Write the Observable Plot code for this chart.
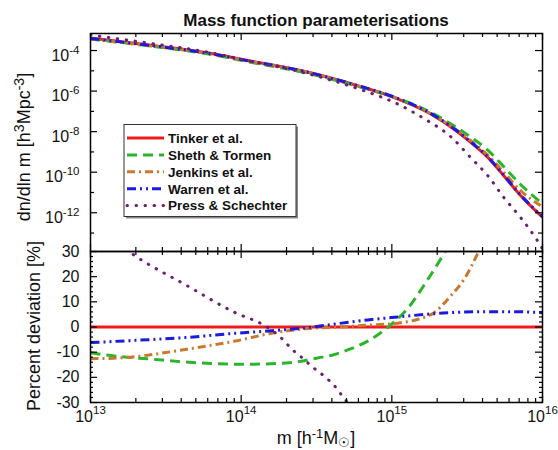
<!DOCTYPE html>
<html><head><meta charset="utf-8">
<script src="https://cdn.jsdelivr.net/npm/d3@7"></script>
<script src="https://cdn.jsdelivr.net/npm/@observablehq/plot@0.6"></script>
<style>
body{margin:0;background:#fff;}
#wrap{position:relative;width:558px;height:450px;overflow:hidden;background:#fff;font-family:"Liberation Sans",Arial,Helvetica,sans-serif;}
#wrap svg{position:absolute;left:0;overflow:visible;background:none;}
</style></head><body><div id="wrap"></div>
<script>
// ---------- data ----------
const seriesNames = ["Tinker et al.", "Sheth & Tormen", "Jenkins et al.", "Warren et al.", "Press & Schechter"];
const seriesColors = ["#ee1b1b", "#2bb52b", "#c9782c", "#1b1be0", "#6a2070"];
const seriesDash = [null, "10,6", "8,4,2,4", "9,4,2,4,2,4", "0.5,8.5"];

// top panel: log10 m  and log10 dn/dlnm
const logMTop = [13.0, 13.398, 13.764, 14.063, 14.395, 14.594, 14.793, 15.012, 15.258, 15.411, 15.524, 15.637, 15.743, 15.856, 16.0];
const tinkerTop = [-3.383, -3.738, -4.099, -4.519, -4.988, -5.358, -5.778, -6.306, -7.126, -7.867, -8.528, -9.269, -10.173, -11.160, -12.222];
const shethTop = [-3.432, -3.778, -4.148, -4.578, -5.047, -5.400, -5.807, -6.296, -7.052, -7.704, -8.272, -8.909, -9.728, -10.617, -11.556];
const jenkinsTop = [-3.432, -3.773, -4.128, -4.543, -4.998, -5.360, -5.778, -6.301, -7.111, -7.827, -8.444, -9.160, -10.000, -10.914, -11.704];
const warrenTop = [-3.407, -3.753, -4.114, -4.528, -4.988, -5.356, -5.768, -6.286, -7.101, -7.842, -8.504, -9.244, -10.148, -11.136, -12.198];
const logMPS = [13.0, 13.398, 13.764, 14.063, 14.395, 14.594, 14.826, 15.026, 15.218, 15.391, 15.524, 15.637, 15.743, 15.856, 15.967, 16.0];
const pressTop = [-3.235, -3.644, -4.059, -4.533, -5.052, -5.457, -6.010, -6.593, -7.373, -8.247, -9.284, -10.173, -11.244, -12.247, -13.383, -13.778];

// bottom panel: log10 m and percent deviation
const tinkerDevM = [13.0, 16.0];
const tinkerDev = [0, 0];
const shethDevM = [13.0, 13.1, 13.41, 13.7, 14.03, 14.3, 14.4, 14.5, 14.62, 14.73, 14.84, 14.97, 15.1, 15.24, 15.36];
const shethDev = [-10.2, -11.1, -12.8, -14.2, -14.8, -14.3, -13.6, -12.4, -10.9, -8.6, -5.6, -0.3, 7.0, 19.0, 30.5];
const jenkinsDevM = [13.0, 13.15, 13.28, 13.45, 13.63, 13.8, 13.96, 14.2, 14.39, 14.62, 14.84, 15.06, 15.17, 15.28, 15.39, 15.48, 15.58];
const jenkinsDev = [-12.6, -12.4, -11.9, -10.6, -8.9, -7.3, -5.6, -2.5, -0.9, -0.1, 0.7, 1.7, 3.0, 5.7, 12.3, 19.0, 30.5];
const warrenDevM = [13.0, 13.3, 13.63, 13.96, 14.2, 14.45, 14.61, 14.84, 15.06, 15.28, 15.6, 15.8, 16.0];
const warrenDev = [-6.2, -5.3, -4.2, -2.5, -1.5, -0.2, 1.1, 2.8, 4.1, 5.3, 6.1, 6.1, 5.7];
const pressDevM = [13.0, 13.29, 13.63, 13.96, 14.16, 14.26, 14.34, 14.39, 14.48, 14.55, 14.62, 14.68, 14.72];
const pressDev = [42, 28.5, 16.8, 5.7, 0.4, -4, -9, -11.5, -16.2, -19.5, -23.4, -28.1, -31];

// ticks
const xMajor = [1e13, 1e14, 1e15, 1e16];
const xMinorFactors = [2, 3, 4, 5, 6, 7, 8, 9];
const yMajorTop = [1e-4, 1e-6, 1e-8, 1e-10, 1e-12];
const yMinorTop = [1e-5, 1e-7, 1e-9, 1e-11, 1e-13];
const yMajorBot = [-30, -20, -10, 0, 10, 20, 30];

// ---------- build tables ----------
const topM = [logMTop, logMTop, logMTop, logMTop, logMPS];
const topV = [tinkerTop, shethTop, jenkinsTop, warrenTop, pressTop];
const botM = [tinkerDevM, shethDevM, jenkinsDevM, warrenDevM, pressDevM];
const botV = [tinkerDev, shethDev, jenkinsDev, warrenDev, pressDev];
const topData = seriesNames.map((s, i) => topM[i].map((lm, j) => ({s, m: 10 ** lm, v: 10 ** topV[i][j]})));
const botData = seriesNames.map((s, i) => botM[i].map((lm, j) => ({s, m: 10 ** lm, v: botV[i][j]})));
const xMinor = xMinorFactors.flatMap(k => [1e13, 1e14, 1e15].map(d => k * d));
const yMinorBot = d3.range(-30, 31, 2).filter(d => d % 10 !== 0);

const FONT = '"Liberation Sans", Arial, Helvetica, sans-serif';
const W = 558, ML = 90, MR = 16;
const plotW = W - ML - MR;
const topH = 251, topMT = 33, topPH = topH - topMT;
const botH = 200, botMT = 1, botMB = 48, botPH = botH - botMT - botMB;
const TK = 7, TKm = 4, TC = "#000";

function lineMarks(data) {
  return data.map((d, i) => Plot.line(d, {
    x: "m", y: "v", stroke: seriesColors[i], strokeWidth: 3,
    strokeDasharray: seriesDash[i] || undefined,
    strokeLinecap: i === 4 ? "round" : "butt",
    curve: "monotone-x", clip: true
  }));
}
function xTicks(ph) {
  return [
    Plot.ruleX(xMajor, {x: d => d, insetBottom: ph - TK, stroke: TC, strokeWidth: 1.2}),
    Plot.ruleX(xMajor, {x: d => d, insetTop: ph - TK, stroke: TC, strokeWidth: 1.2}),
    Plot.ruleX(xMinor, {x: d => d, insetBottom: ph - TKm, stroke: TC, strokeWidth: 1.2}),
    Plot.ruleX(xMinor, {x: d => d, insetTop: ph - TKm, stroke: TC, strokeWidth: 1.2})
  ];
}
function yTicks(maj, min, minLen) {
  return [
    Plot.ruleY(maj, {y: d => d, insetRight: plotW - TK, stroke: TC, strokeWidth: 1.2}),
    Plot.ruleY(maj, {y: d => d, insetLeft: plotW - TK, stroke: TC, strokeWidth: 1.2}),
    Plot.ruleY(min, {y: d => d, insetRight: plotW - minLen, stroke: TC, strokeWidth: 1.2}),
    Plot.ruleY(min, {y: d => d, insetLeft: plotW - minLen, stroke: TC, strokeWidth: 1.2})
  ];
}
const expLabel = d => "10^" + Math.round(Math.log10(d));

const topPlot = Plot.plot({
  width: W, height: topH, marginLeft: ML, marginRight: MR, marginTop: topMT, marginBottom: 0,
  x: {type: "log", domain: [1e13, 1e16], axis: null},
  y: {type: "log", domain: [10 ** -13.91, 10 ** -3.16], axis: null},
  style: {fontFamily: FONT, fontSize: "16px", overflow: "visible", background: "none"},
  marks: [
    ...lineMarks(topData),
    Plot.frame({stroke: "#000", strokeWidth: 1.5}),
    ...xTicks(topPH),
    ...yTicks(yMajorTop, yMinorTop, TKm),
    Plot.text(yMajorTop, {y: d => d, text: expLabel, frameAnchor: "left", textAnchor: "end", dx: -11, dy: 5, fontSize: 16, fill: "#111"})
  ]
});

const botPlot = Plot.plot({
  width: W, height: botH, marginLeft: ML, marginRight: MR, marginTop: botMT, marginBottom: botMB,
  x: {type: "log", domain: [1e13, 1e16], axis: null},
  y: {domain: [-30, 30], axis: null},
  style: {fontFamily: FONT, fontSize: "16px", overflow: "visible", background: "none"},
  marks: [
    ...lineMarks(botData),
    Plot.frame({stroke: "#000", strokeWidth: 1.5}),
    ...xTicks(botPH),
    ...yTicks(yMajorBot, yMinorBot, 3),
    Plot.text(yMajorBot, {y: d => d, text: d => String(d), frameAnchor: "left", textAnchor: "end", dx: -11, fontSize: 16, fill: "#111"}),
    Plot.text(xMajor, {x: d => d, text: expLabel, frameAnchor: "bottom", dy: 19, fontSize: 16, fill: "#111"})
  ]
});

function supify(svg) {
  d3.select(svg).selectAll("text").each(function () {
    const t = this.textContent;
    if (t.includes("^")) {
      const [b, e] = t.split("^");
      const sel = d3.select(this);
      sel.text(null);
      sel.append("tspan").text(b);
      sel.append("tspan").attr("dy", "-0.62em").attr("font-size", "0.72em").text(e);
    }
  });
}
supify(topPlot); supify(botPlot);

const wrap = document.getElementById("wrap");
topPlot.style.top = "0px";
botPlot.style.top = (topH - botMT) + "px";
wrap.appendChild(topPlot);
wrap.appendChild(botPlot);

// ---------- overlay: title, axis titles, legend ----------
const ov = d3.create("svg").attr("width", W).attr("height", 450).style("top", "0px")
  .attr("font-family", FONT).attr("fill", "#111");
ov.append("text").attr("x", ML + plotW / 2).attr("y", 26).attr("text-anchor", "middle")
  .attr("font-size", 17).attr("font-weight", "bold").text("Mass function parameterisations");

const yl1 = ov.append("text").attr("transform", "translate(30,147) rotate(-90)").attr("text-anchor", "middle").attr("font-size", 18);
yl1.append("tspan").text("dn/dln m [h");
yl1.append("tspan").attr("dy", "-0.45em").attr("font-size", "0.78em").text("3");
yl1.append("tspan").attr("dy", "0.35em").text("Mpc");
yl1.append("tspan").attr("dy", "-0.45em").attr("font-size", "0.78em").text("-3");
yl1.append("tspan").attr("dy", "0.35em").text("]");

ov.append("text").attr("transform", "translate(40,326) rotate(-90)").attr("text-anchor", "middle")
  .attr("font-size", 18).text("Percent deviation [%]");

const xl = ov.append("text").attr("x", ML + plotW / 2).attr("y", 444).attr("text-anchor", "middle").attr("font-size", 18);
xl.append("tspan").text("m [h");
xl.append("tspan").attr("dy", "-0.45em").attr("font-size", "0.72em").text("-1");
xl.append("tspan").attr("dy", "0.32em").text("M");
xl.append("tspan").attr("dy", "0.25em").attr("font-size", "0.72em").text("\u2609");
xl.append("tspan").attr("dy", "-0.18em").text("]");

// legend
const lg = ov.append("g");
const lx = 124, ly = 124.5, lw = 172, lh = 92;
lg.append("rect").attr("x", lx + 2).attr("y", ly + 2).attr("width", lw).attr("height", lh).attr("fill", "#8a8a8a");
lg.append("rect").attr("x", lx).attr("y", ly).attr("width", lw).attr("height", lh).attr("fill", "#fff").attr("stroke", "#333").attr("stroke-width", 1);
seriesNames.forEach((name, i) => {
  const yy = 138 + i * 16.9;
  lg.append("line").attr("x1", 127).attr("x2", 164).attr("y1", yy).attr("y2", yy)
    .attr("stroke", seriesColors[i]).attr("stroke-width", 3)
    .attr("stroke-dasharray", seriesDash[i])
    .attr("stroke-linecap", i === 4 ? "round" : "butt");
  lg.append("text").attr("x", 168).attr("y", yy).attr("dy", "0.36em").attr("font-size", 13.5)
    .attr("font-weight", "bold").text(name);
});
wrap.appendChild(ov.node());
</script></body></html>
